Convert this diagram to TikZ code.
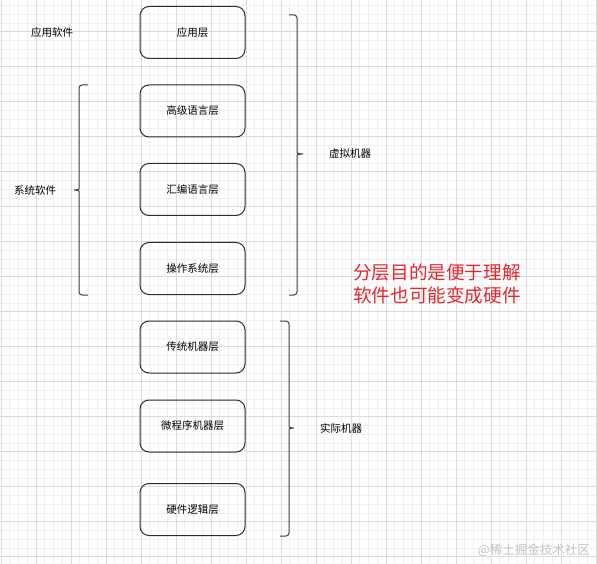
\documentclass[tikz,border=0pt]{standalone}
\usepackage{fontspec}
\newfontfamily\cjk{Noto Sans CJK SC}
\definecolor{minorgrid}{HTML}{F0F0F0}
\definecolor{majorgrid}{HTML}{DCDCDC}
\definecolor{boxline}{HTML}{2E2E2E}
\definecolor{notered}{HTML}{E8262C}
\definecolor{wmark}{HTML}{C4C4C4}
\tikzset{
  layer/.style={draw=boxline, line width=1pt, rounded corners=9pt, minimum width=105pt, minimum height=52pt, inner sep=0pt, font=\cjk\fontsize{10.5}{12}\selectfont, text=black},
  lbl/.style={inner sep=0pt, font=\cjk\fontsize{10.5}{12}\selectfont, text=black},
  bracket/.style={draw=black!75, line width=1pt, rounded corners=3pt},
  minorline/.style={draw=minorgrid, line width=0.6pt},
  majorline/.style={draw=majorgrid, line width=0.7pt}
}
\begin{document}
\begin{tikzpicture}[x=1pt,y=-1pt]
\useasboundingbox (0,0) rectangle (597,564);
\fill[white] (0,0) rectangle (597,564);
% grid
\foreach \i in {0,...,68} {
  \draw[minorline] ({1+8.75*\i},0) -- ({1+8.75*\i},564);
}
\foreach \j in {0,...,65} {
  \draw[minorline] (0,{-3.3+8.75*\j}) -- (597,{-3.3+8.75*\j});
}
\foreach \i in {0,...,17} {
  \draw[majorline] ({1+35*\i},0) -- ({1+35*\i},564);
}
\foreach \j in {0,...,16} {
  \draw[majorline] (0,{-3.3+35*\j}) -- (597,{-3.3+35*\j});
}
% layers
\node[layer] (app) at (192.5,32.5) {应用层};
\node[layer] (hll) at (192.5,111) {高级语言层};
\node[layer] (asm) at (192.5,189.5) {汇编语言层};
\node[layer] (os)  at (192.5,268.5) {操作系统层};
\node[layer] (trad) at (192.5,347) {传统机器层};
\node[layer] (micro) at (192.5,426) {微程序机器层};
\node[layer] (hw) at (192.5,509.5) {硬件逻辑层};
% labels
\node[lbl] (appsw) at (52,32.5) {应用软件};
\node[lbl] (syssw) at (35,190) {系统软件};
\node[lbl] (virt) at (350,154) {虚拟机器};
\node[lbl] (real) at (341,428) {实际机器};
% braces (tip coordinates)
\coordinate (tipA) at (72,190);
\coordinate (tipB) at (305,154);
\coordinate (tipC) at (296,428);
\draw[bracket] (88,85) -- (79,85) -- (79,186)
  .. controls (79,189) and (77,190) .. (tipA)
  .. controls (77,190) and (79,191) .. (79,194) -- (79,295) -- (88,295);
\draw[bracket] (289,15) -- (297,15) -- (297,150)
  .. controls (297,153) and (299,154) .. (tipB)
  .. controls (299,154) and (297,155) .. (297,158) -- (297,295) -- (289,295);
\draw[bracket] (280,321) -- (289,321) -- (289,424)
  .. controls (289,427) and (291,428) .. (tipC)
  .. controls (291,428) and (289,429) .. (289,432) -- (289,536) -- (280,536);
% note
\node[inner sep=0pt, align=left, text=notered, font=\cjk\fontsize{18.6}{22.5}\selectfont] (note) at (437,284) {分层目的是便于理解\\软件也可能变成硬件};
% watermark
\node[inner sep=0pt, text=wmark, font=\cjk\fontsize{12.5}{14}\selectfont, anchor=east] (wm) at (590,550) {@稀土掘金技术社区};
\end{tikzpicture}
\end{document}
